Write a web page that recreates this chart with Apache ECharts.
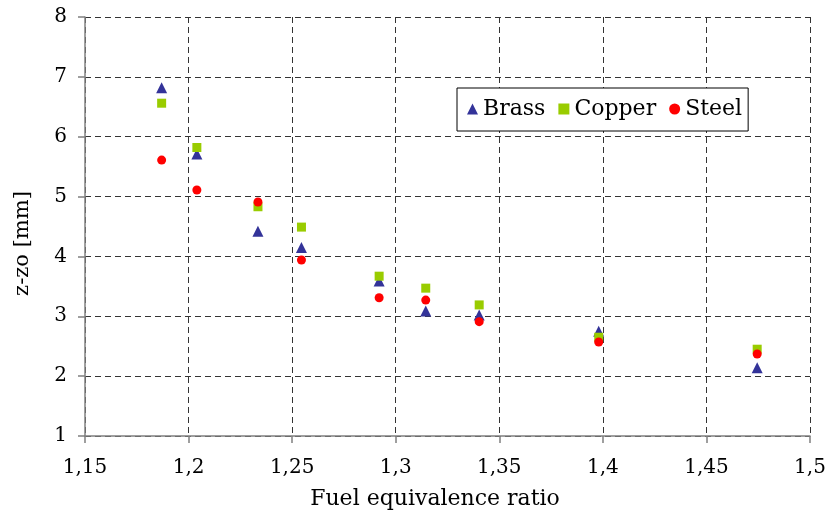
<!DOCTYPE html>
<html>
<head>
<meta charset="utf-8">
<script src="https://cdn.jsdelivr.net/npm/echarts@6/dist/echarts.min.js"></script>
<style>html,body{margin:0;padding:0;background:#fff}#c{width:830px;height:513px}</style>
</head>
<body>
<div id="c"></div>
<script>
const phi = [1.187, 1.204, 1.2335, 1.2545, 1.292, 1.3145, 1.3403, 1.398, 1.4745];
const brass = [6.82, 5.71, 4.42, 4.15, 3.59, 3.09, 3.02, 2.75, 2.14];
const copper = [6.56, 5.82, 4.83, 4.49, 3.67, 3.47, 3.19, 2.65, 2.45];
const steel = [5.61, 5.11, 4.91, 3.94, 3.31, 3.27, 2.91, 2.57, 2.37];
const xTicks = ['1,15','1,2','1,25','1,3','1,35','1,4','1,45','1,5'];

const FONT = 'DejaVu Serif';
const pair = (arr) => phi.map((x, i) => [x, arr[i]]);
const fmtX = (v) => String(Math.round(v * 100) / 100).replace('.', ',');

const chart = echarts.init(document.getElementById('c'), null, {renderer: 'canvas'});
chart.setOption({
  animation: false,
  backgroundColor: '#fff',
  grid: {left: 85, right: 20, top: 17, bottom: 77, containLabel: false, outerBoundsMode: 'none'},
  legend: {
    left: 457, top: 88,
    padding: [10, 6, 11, 10],
    itemGap: 13,
    itemWidth: 11, itemHeight: 11,
    borderColor: '#000', borderWidth: 1,
    backgroundColor: '#fff',
    textStyle: {fontFamily: FONT, fontSize: 22, color: '#000'},
    data: ['Brass', 'Copper', 'Steel']
  },
  xAxis: {
    type: 'value', min: 1.15, max: 1.5, interval: 0.05,
    name: 'Fuel equivalence ratio', nameLocation: 'middle', nameGap: 52,
    nameTextStyle: {fontFamily: FONT, fontSize: 22, color: '#000', padding: [0, 25, 0, 0]},
    axisLine: {show: true, lineStyle: {color: '#808080', width: 1.5}},
    axisTick: {show: true, length: 7, lineStyle: {color: '#808080', width: 1.5}},
    axisLabel: {fontFamily: FONT, fontSize: 20, color: '#000', margin: 22,
      formatter: (v) => { const i = Math.round((v - 1.15) / 0.05); return xTicks[i] !== undefined ? xTicks[i] : fmtX(v); }},
    splitLine: {show: true, lineStyle: {color: '#333', type: [6, 4], width: 1}}
  },
  yAxis: {
    type: 'value', min: 1, max: 8, interval: 1,
    name: 'z-zo [mm]', nameLocation: 'middle', nameGap: 52,
    nameTextStyle: {fontFamily: FONT, fontSize: 21, color: '#000', padding: [0, 34, 0, 0]},
    axisLine: {show: true, lineStyle: {color: '#808080', width: 1.5}},
    axisTick: {show: true, length: 7, lineStyle: {color: '#808080', width: 1.5}},
    axisLabel: {fontFamily: FONT, fontSize: 20, color: '#000', margin: 18},
    splitLine: {show: true, lineStyle: {color: '#333', type: [6, 4], width: 1}}
  },
  series: [
    {name: 'Brass', type: 'scatter', symbol: 'triangle', symbolSize: 11,
      itemStyle: {color: '#333399', opacity: 1}, data: pair(brass)},
    {name: 'Copper', type: 'scatter', symbol: 'rect', symbolSize: 9,
      itemStyle: {color: '#99CC00', opacity: 1}, data: pair(copper)},
    {name: 'Steel', type: 'scatter', symbol: 'circle', symbolSize: 9,
      itemStyle: {color: '#FF0000', opacity: 1}, data: pair(steel)}
  ]
});
</script>
</body>
</html>
